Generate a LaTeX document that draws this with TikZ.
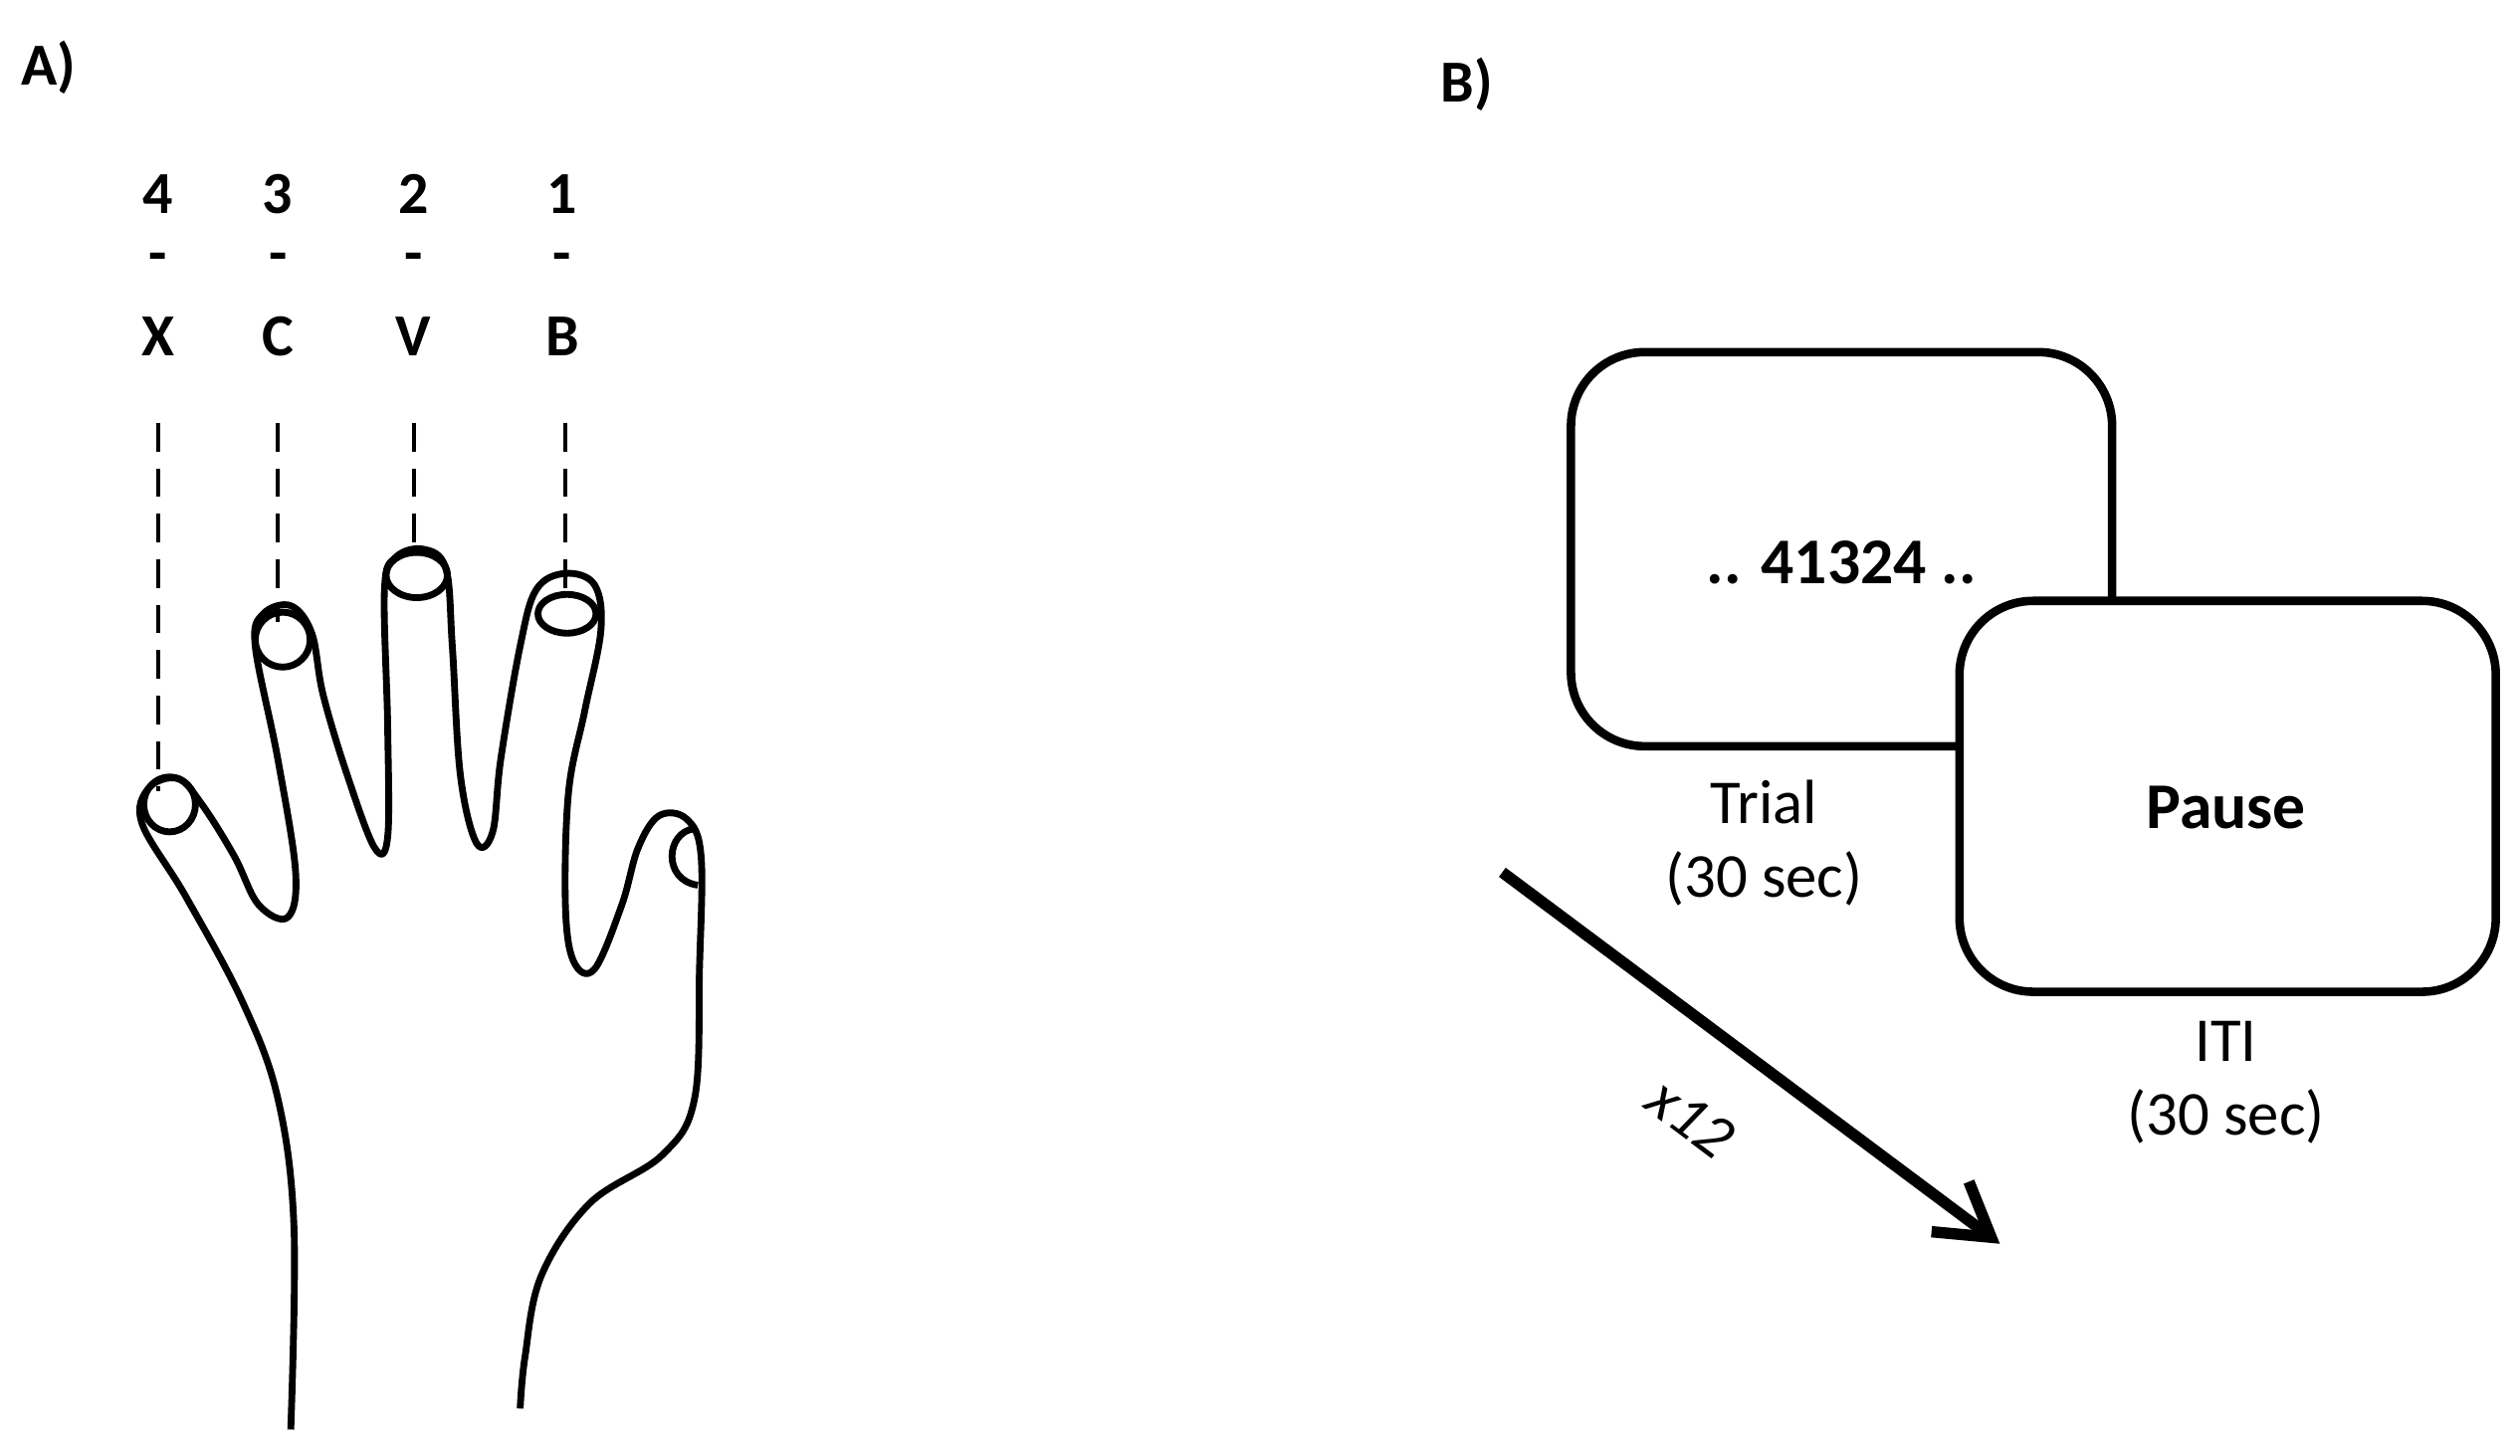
\documentclass[tikz,border=0pt]{standalone}
\usepackage{fontspec}
\setmainfont{Carlito}
\usetikzlibrary{arrows.meta}
\begin{document}
\begin{tikzpicture}[x=0.1mm,y=-0.1mm,
  lab/.style={font=\fontsize{10.5}{12}\selectfont\bfseries,inner sep=0pt},
  txt/.style={font=\fontsize{11}{13}\selectfont,align=center,inner sep=0pt},
  box/.style={draw,line width=1.5pt,rounded corners=13pt,fill=white},
  dashline/.style={line width=0.7pt,dash pattern=on 5pt off 3pt},
  hand/.style={line width=1.2pt,line join=round}]
\useasboundingbox (0,0) rectangle (1560,901);
\node[lab] (A) at (30,42) {A)};
\node[lab] (B) at (908,52) {B)};
\foreach \n/\x/\num/\lt in {f4/98/4/X,f3/172/3/C,f2/256/2/V,f1/348/1/B}{
  \node[lab] (\n n) at (\x,120) {\num};
  \node[lab] (\n d) at (\x,163) {-};
  \node[lab] (\n l) at (\x,208) {\lt};
}
\coordinate (d4a) at (98,262); \coordinate (d4b) at (98,490);
\coordinate (d3a) at (172,262); \coordinate (d3b) at (172,385);
\coordinate (d2a) at (256,262); \coordinate (d2b) at (256,345);
\coordinate (d1a) at (350,262); \coordinate (d1b) at (350,370);
\draw[dashline] (d4a)--(d4b); \draw[dashline] (d3a)--(d3b);
\draw[dashline] (d2a)--(d2b); \draw[dashline] (d1a)--(d1b);
\draw[hand] plot[smooth,tension=0.6] coordinates{(180,885) (182,760) (172,680) (150,620) (115,555) (88,510) (92,488) (110,482) (125,498) (145,530) (160,560) (178,568) (183,540) (172,470) (158,400) (163,380) (180,375) (193,392) (200,430) (215,480) (232,525) (240,518) (240,450) (238,365) (245,345) (262,340) (276,352) (280,400) (285,480) (295,522) (305,515) (310,470) (322,400) (332,365) (350,355) (368,362) (372,390) (362,440) (352,490) (350,560) (355,595) (368,600) (385,560) (395,525) (408,505) (425,507) (434,530) (433,600) (430,680) (410,715) (365,745) (335,790) (325,840) (322,872)};
\draw[hand] (105,498) ellipse [x radius=16,y radius=17];
\draw[hand] (175,396) ellipse [x radius=17,y radius=17];
\draw[hand] (258,356) ellipse [x radius=19,y radius=14];
\draw[hand] (351,380) ellipse [x radius=18,y radius=12];
\draw[hand] (430,513) .. controls (412,515) and (410,545) .. (432,548);
\node[box,minimum width=335*0.1mm,minimum height=244*0.1mm] (trial) at (1140,340) {};
\node[font=\fontsize{11.5}{13}\selectfont\bfseries] (seq) at (1140,348) {.. 41324 ..};
\node[box,minimum width=332*0.1mm,minimum height=242*0.1mm] (pause) at (1379,493) {};
\node[font=\fontsize{11.5}{13}\selectfont\bfseries] (pt) at (1378,500) {Pause};
\node[txt] (tl) at (1092,522) {Trial\\(30 sec)};
\node[txt] (il) at (1378,670) {ITI\\(30 sec)};
\coordinate (a1) at (930,540); \coordinate (a2) at (1238,770);
\draw[line width=2pt,-{Straight Barb[length=9pt,width=11pt,line width=2pt]}] (a1) -- (a2);
\node[font=\fontsize{11}{13}\selectfont\itshape,rotate=-37] (x12) at (1047,692) {x12};
\end{tikzpicture}
\end{document}
